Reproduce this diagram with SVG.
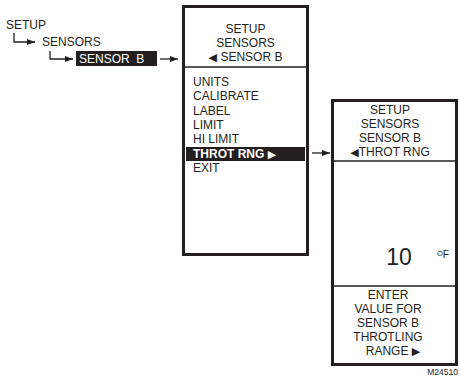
<svg xmlns="http://www.w3.org/2000/svg" width="460" height="378" viewBox="0 0 460 378">
<style>
text{font-family:"Liberation Sans",Arial,sans-serif;font-size:12px;fill:#231f20}
.c{text-anchor:middle}
.w{fill:#fff}
.b{font-weight:bold}
.box{fill:#fff;stroke:#231f20;stroke-width:3}
.div{stroke:#231f20;stroke-width:1.5}
.ln{fill:none;stroke:#231f20;stroke-width:1.3}
.tri{font-family:"DejaVu Sans",sans-serif;font-size:11px}
</style>
<defs>
<marker id="ah" markerWidth="8" markerHeight="6" refX="8" refY="3" orient="auto" markerUnits="userSpaceOnUse">
<path d="M0,0 L8,3 L0,6 Z" fill="#231f20"/>
</marker>
</defs>
<g id="connectors">
<path class="ln" d="M14,33 V42 H35" marker-end="url(#ah)"/>
<path class="ln" d="M50,51 V59 H73" marker-end="url(#ah)"/>
<path class="ln" d="M160,59 H178" marker-end="url(#ah)"/>
<path class="ln" d="M312,153 H330" marker-end="url(#ah)"/>
</g>
<g id="path">
<text x="6" y="29">SETUP</text>
<text x="42" y="46">SENSORS</text>
<rect x="76" y="51" width="81" height="15" fill="#231f20"/>
<text class="w" x="79" y="63" xml:space="preserve">SENSOR  B</text>
</g>
<g id="box1">
<rect class="box" x="183.5" y="6.5" width="124" height="248"/>
<line class="div" x1="185" y1="67" x2="306" y2="67"/>
<text class="c" x="245.5" y="33">SETUP</text>
<text class="c" x="245.5" y="47">SENSORS</text>
<text class="c" x="245.5" y="61"><tspan class="tri">◀</tspan> SENSOR B</text>
<text x="193" y="86">UNITS</text>
<text x="193" y="100">CALIBRATE</text>
<text x="193" y="115">LABEL</text>
<text x="193" y="129">LIMIT</text>
<text x="193" y="143">HI LIMIT</text>
<rect x="186" y="147" width="119" height="14" fill="#231f20"/>
<text class="w b" x="193" y="158">THROT RNG <tspan class="tri w">▶</tspan></text>
<text x="193" y="172">EXIT</text>
</g>
<g id="box2">
<rect class="box" x="332.5" y="100.5" width="124" height="264"/>
<line class="div" x1="334" y1="161" x2="455" y2="161"/>
<line class="div" x1="334" y1="286" x2="455" y2="286"/>
<text class="c" x="390" y="114">SETUP</text>
<text class="c" x="390" y="128">SENSORS</text>
<text class="c" x="390" y="142">SENSOR B</text>
<text class="c" x="390" y="156"><tspan class="tri">◀</tspan>THROT RNG</text>
<text class="c" x="399" y="265" style="font-size:23px">10</text>
<text x="437" y="258" style="font-size:10px"><tspan style="font-size:7.5px" dy="-2.5">O</tspan><tspan dy="2.5">F</tspan></text>
<text class="c" x="388" y="299">ENTER</text>
<text class="c" x="388" y="313">VALUE FOR</text>
<text class="c" x="388" y="327">SENSOR B</text>
<text class="c" x="388" y="341">THROTLING</text>
<text class="c" x="393" y="355">RANGE <tspan class="tri">▶</tspan></text>
</g>
<text x="458" y="375" style="font-size:8.5px;text-anchor:end">M24510</text>
</svg>
